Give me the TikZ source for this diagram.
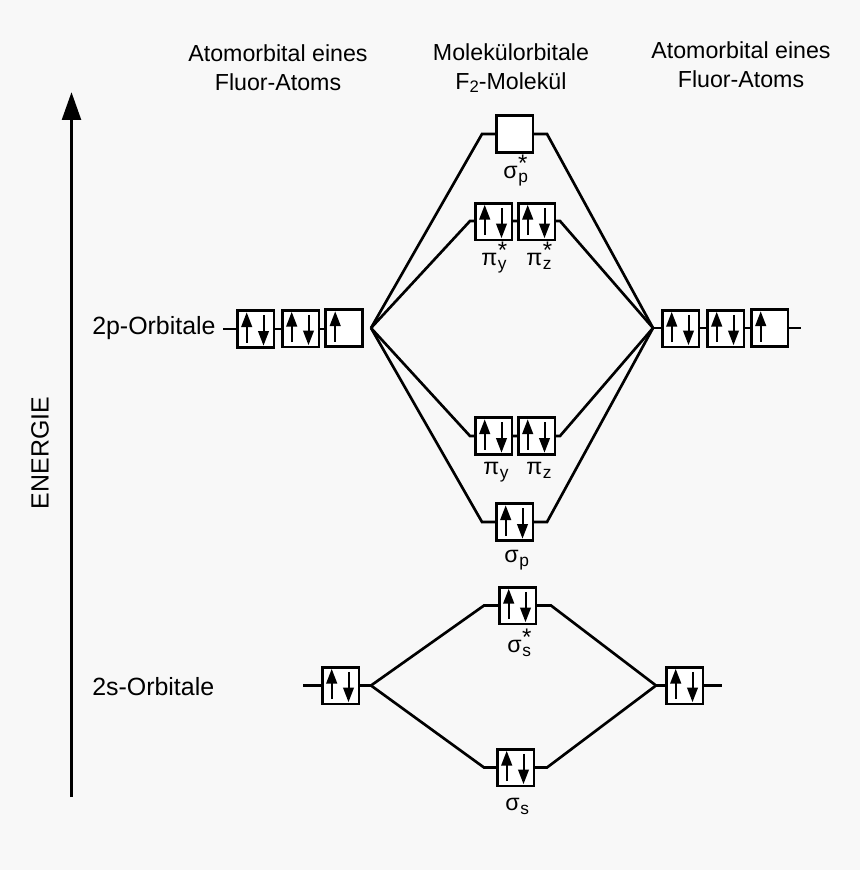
\documentclass[tikz,border=0pt]{standalone}
\usepackage{fontspec}
\setmainfont{Liberation Sans}
\usetikzlibrary{arrows.meta}
\newcommand{\subt}[1]{\raisebox{-3pt}{\fontsize{13}{13}\selectfont\kern0.5pt #1}}
\newcommand{\lbl}[3]{#1\rlap{\subt{#2}}\raisebox{4.6pt}{\fontsize{18}{18}\selectfont\kern0.4pt #3}}
\newcommand{\orb}[4]{%
  \node[orbbox] (#1) at (#2,#3) {};
  \ifnum#4>0 \draw[spin] ([xshift=-6.6pt,yshift=-10.2pt]#1.center) -- ([xshift=-6.6pt,yshift=12.5pt]#1.center);\fi
  \ifnum#4>1 \draw[spin] ([xshift=6pt,yshift=10.2pt]#1.center) -- ([xshift=6pt,yshift=-12.5pt]#1.center);\fi
}
\begin{document}
\begin{tikzpicture}[x=0.75pt,y=-0.75pt,
  orbbox/.style={draw=black,fill=white,line width=2pt,minimum width=27.5pt,minimum height=27.5pt,inner sep=0pt,outer sep=0pt},
  spin/.style={line width=1.5pt,-{Triangle[length=11pt,width=8pt]}},
  link/.style={line width=2pt,line join=miter},
  txt/.style={font=\fontsize{17.4}{21.7}\selectfont,align=center,inner sep=0pt},
  big/.style={font=\fontsize{18.7}{22}\selectfont,inner sep=0pt},
  sym/.style={font=\fontsize{17.4}{20}\selectfont,inner sep=0pt,anchor=base west}]
\useasboundingbox[fill={rgb,255:red,248;green,248;blue,248}] (0,0) rectangle (860,870);
% energy axis
\coordinate (axisbottom) at (71.5,797);
\coordinate (axistop) at (71.5,92);
\draw[line width=2.6pt,-{Triangle[length=21pt,width=14pt]}] (axisbottom) -- (axistop);
\node[big,rotate=90] (energie) at (40,453) {ENERGIE};
% headings
\node[txt] (hl) at (278,67.5) {Atomorbital eines\\Fluor-Atoms};
\node[txt] (hm) at (511,68) {Molekülorbitale\\F\raisebox{-2.5pt}{\fontsize{12.5}{12.5}\selectfont 2}-Molekül};
\node[txt] (hr) at (741,65) {Atomorbital eines\\Fluor-Atoms};
\node[big,anchor=west] (l2p) at (92,328) {2p-Orbitale};
\node[big,anchor=west] (l2s) at (92,687) {2s-Orbitale};
% junctions
\coordinate (jl) at (371,328);
\coordinate (jr) at (653,328);
\coordinate (kl) at (371,685.5);
\coordinate (kr) at (656,685.5);
\coordinate (el) at (223,329);
\coordinate (er) at (801,328);
\coordinate (fl) at (303,685.5);
\coordinate (fr) at (722,685.5);
% connectors
\draw[link] (el) -- (362,329);
\draw[link] (653,328) -- (er);
\draw[link] (fl) -- (kl);
\draw[link] (kr) -- (fr);
\draw[link] (jl) -- (482,134) -- (547,134) -- (jr);
\draw[link] (jl) -- (470,221) -- (560,221) -- (jr);
\draw[link] (jl) -- (470,436) -- (560,436) -- (jr);
\draw[link] (jl) -- (482,522) -- (547,522) -- (jr);
\draw[link] (kl) -- (484,605.5) -- (551,605.5) -- (kr);
\draw[link] (kl) -- (484,767.5) -- (547,767.5) -- (kr);
% left 2p
\orb{al}{255.5}{329}{2}
\orb{bl}{300.5}{328.5}{2}
\orb{cl}{344}{328}{1}
% right 2p
\orb{ar}{680.5}{328.5}{2}
\orb{br}{725.5}{328.5}{2}
\orb{cr}{769.5}{328}{1}
% molecular orbitals
\orb{sps}{514.5}{134}{0}
\orb{piys}{493.5}{221.5}{2}
\orb{pizs}{536.5}{221.5}{2}
\orb{piy}{493.5}{436}{2}
\orb{piz}{536.5}{436}{2}
\orb{sp}{514.5}{522}{2}
\orb{sss}{517.5}{605.5}{2}
\orb{ss}{515.5}{767.5}{2}
% 2s
\orb{dl}{340.5}{685.5}{2}
\orb{dr}{684.5}{685.5}{2}
% labels
\node[sym] (t1) at (503,178) {\lbl{σ}{p}{*}};
\node[sym] (t2) at (481,265) {\lbl{π}{y}{*}};
\node[sym] (t3) at (526,265) {\lbl{π}{z}{*}};
\node[sym] (t4) at (483,474) {π\subt{y}};
\node[sym] (t5) at (526,474) {π\subt{z}};
\node[sym] (t6) at (504,562) {σ\subt{p}};
\node[sym] (t7) at (507,652) {\lbl{σ}{s}{*}};
\node[sym] (t8) at (505,810) {σ\subt{s}};
\end{tikzpicture}
\end{document}
